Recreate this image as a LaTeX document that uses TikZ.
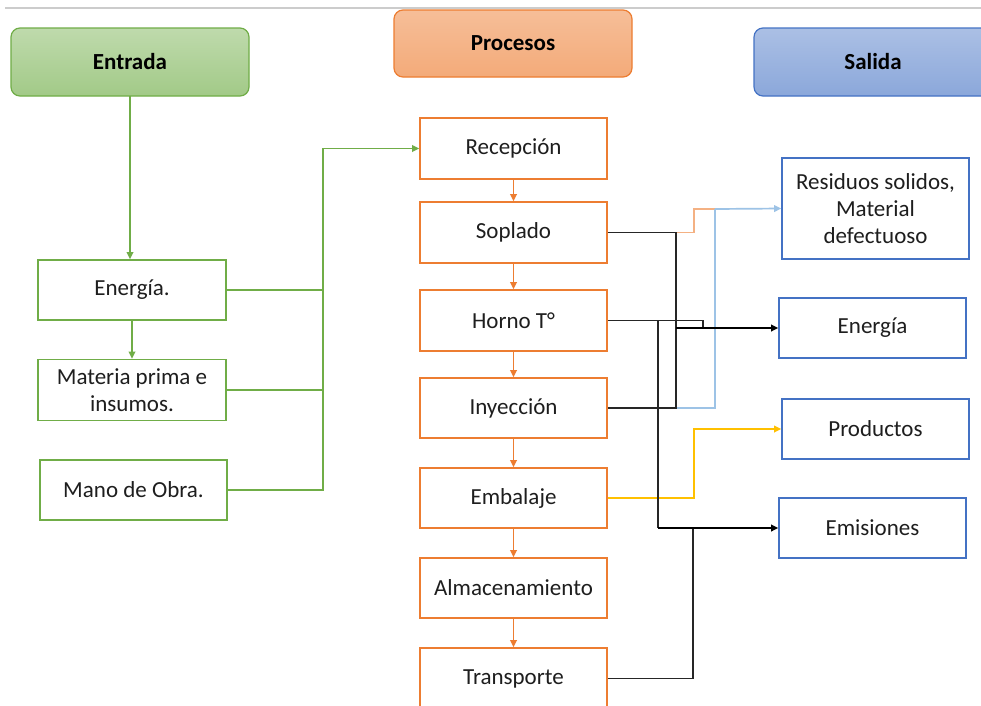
\documentclass[tikz,border=0pt]{standalone}
\usepackage{fontspec}
\setmainfont{Carlito}
\usetikzlibrary{arrows.meta}
\definecolor{gborder}{HTML}{70AD47}
\definecolor{oborder}{HTML}{ED7D31}
\definecolor{bborder}{HTML}{4472C4}
\definecolor{lorange}{HTML}{F4B183}
\definecolor{lblue}{HTML}{9DC3E6}
\definecolor{yell}{HTML}{FFC000}
\definecolor{txt}{HTML}{1E1E1E}
\tikzset{
  box/.style={draw, line width=1.6pt, fill=white, minimum width=187pt, minimum height=60pt,
    align=center, inner sep=2pt, text=txt, font=\fontsize{23}{27}\selectfont},
  inbox/.style={box, draw=gborder},
  prbox/.style={box, draw=oborder},
  outbox/.style={box, draw=bborder},
  header/.style={draw, line width=1.2pt, rounded corners=9pt, minimum width=238pt, minimum height=68pt,
    font=\fontsize{23}{27}\selectfont\bfseries, text=black},
  tip/.style={-{Triangle[length=7pt,width=6.5pt]}},
  gline/.style={draw=gborder, line width=1.7pt},
  oline/.style={draw=oborder, line width=1.7pt},
  kline/.style={draw=black!85, line width=1.7pt},
}
\begin{document}
\begin{tikzpicture}[x=1pt,y=-1pt]
\useasboundingbox (0,0) rectangle (981,705);
\begin{scope}
\clip (0,0) rectangle (981,705);
\fill[white] (0,0) rectangle (981,705);
\draw[line width=1.5pt, draw=black!20] (5,8) -- (981,8);

% headers
\node[header, draw=gborder, top color=gborder!45, bottom color=gborder!65] (entrada) at (130,62) {Entrada};
\node[header, draw=oborder, top color=oborder!50, bottom color=oborder!65, minimum height=67pt] (procesos) at (513,43.5) {Procesos};
\node[header, draw=bborder, top color=bborder!45, bottom color=bborder!62] (salida) at (873,62) {Salida};

% inputs
\node[inbox, minimum width=188pt] (e1) at (132,290) {Energía.};
\node[inbox, minimum width=188pt, minimum height=61pt] (e2) at (132,390) {Materia prima e\\insumos.};
\node[inbox] (e3) at (133.5,490) {Mano de Obra.};

% processes
\node[prbox, minimum height=61pt] (rec) at (513.5,148.5) {Recepción};
\node[prbox, minimum height=61pt] (sop) at (513.5,232.5) {Soplado};
\node[prbox, minimum height=61pt] (hor) at (513.5,320.5) {Horno T°};
\node[prbox] (iny) at (513.5,408) {Inyección};
\node[prbox] (emb) at (513.5,498) {Embalaje};
\node[prbox] (alm) at (513.5,588) {Almacenamiento};
\node[prbox, minimum height=61pt] (tra) at (513.5,678.5) {Transporte};

% outputs
\node[outbox, minimum height=101pt] (res) at (875.5,208.5) {Residuos solidos,\\Material\\defectuoso};
\node[outbox] (ener) at (872.5,328) {Energía};
\node[outbox] (prod) at (875.5,429) {Productos};
\node[outbox] (emi) at (872.5,528) {Emisiones};

% input connectors
\draw[gline, tip] (130,96) -- (130,259.2);
\draw[gline, tip] (e1.south) -- (e2.north);
\coordinate (gb) at (323,0);
\draw[gline, tip] (e3.east) -| (gb |- rec.west) -- (rec.west);
\draw[gline] (e1.east) -- (e1.east -| gb);
\draw[gline] (e2.east) -- (e2.east -| gb);

% process arrows
\draw[oline, tip] (rec.south) -- (sop.north);
\draw[oline, tip] (sop.south) -- (hor.north);
\draw[oline, tip] (hor.south) -- (iny.north);
\draw[oline, tip] (iny.south) -- (emb.north);
\draw[oline, tip] (emb.south) -- (alm.north);
\draw[oline, tip] (alm.south) -- (tra.north);

% output connectors
\coordinate (sj) at (676,232.5);
\coordinate (ij) at (676,408);
\coordinate (bj) at (715,209);
\draw[draw=lorange, line width=1.7pt] (sj) -- (694,232.5) -- (694,209) -- (bj);
\draw[draw=lblue, line width=1.7pt, tip] (bj) -- (res.west);
\draw[draw=lblue, line width=1.7pt] (bj) -- (715,408) -- (ij);
\draw[draw=yell, line width=1.7pt, tip] (emb.east) -- (694,498) -- (694,429) -- (prod.west);
\draw[kline] (sop.east) -- (sj) -- (ij) -- (iny.east);
\draw[kline] (hor.east) -- (703,320.5) -- (703,328);
\draw[draw=black, line width=2.3pt, tip] (676,328) -- (ener.west);
\draw[kline] (658,320.5) -- (658,528);
\draw[kline] (tra.east) -- (693,678.5) -- (693,528);
\draw[draw=black, line width=1.9pt, tip] (658,528) -- (emi.west);
\end{scope}
\end{tikzpicture}
\end{document}
